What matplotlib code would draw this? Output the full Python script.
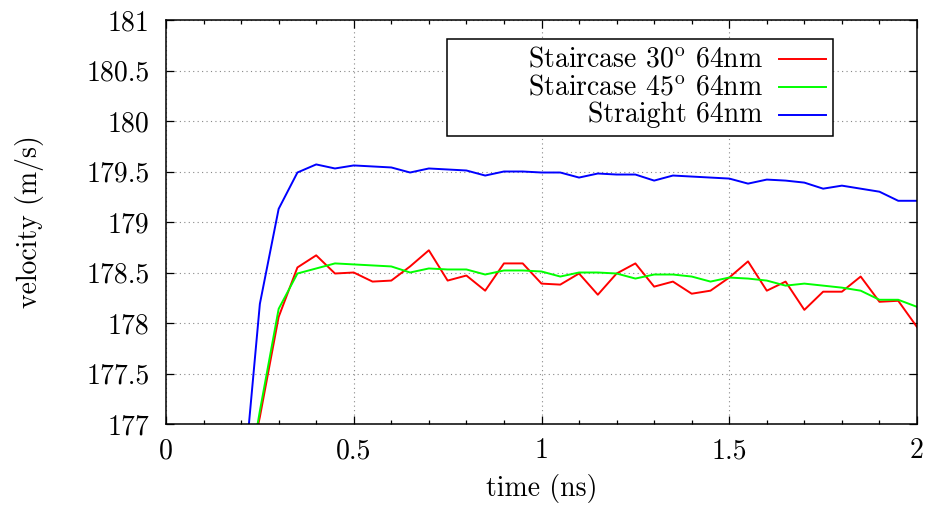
import matplotlib
matplotlib.use("Agg")
import matplotlib.pyplot as plt
from matplotlib.ticker import MultipleLocator, FuncFormatter
from matplotlib.patches import Rectangle
from matplotlib.lines import Line2D

time_ns = [0.20, 0.25, 0.30, 0.35, 0.40, 0.45, 0.50, 0.55, 0.60, 0.65,
           0.70, 0.75, 0.80, 0.85, 0.90, 0.95, 1.00, 1.05, 1.10, 1.15,
           1.20, 1.25, 1.30, 1.35, 1.40, 1.45, 1.50, 1.55, 1.60, 1.65,
           1.70, 1.75, 1.80, 1.85, 1.90, 1.95, 2.00]

stair30 = [176.20, 177.07, 178.06, 178.55, 178.67, 178.49, 178.50, 178.41, 178.42, 178.56,
           178.72, 178.42, 178.47, 178.32, 178.59, 178.59, 178.39, 178.38, 178.49, 178.28,
           178.49, 178.59, 178.36, 178.41, 178.29, 178.32, 178.45, 178.61, 178.32, 178.41,
           178.13, 178.31, 178.31, 178.46, 178.21, 178.22, 177.96]

stair45 = [176.05, 177.13, 178.14, 178.49, 178.54, 178.59, 178.58, 178.57, 178.56, 178.50,
           178.54, 178.53, 178.53, 178.48, 178.52, 178.52, 178.51, 178.46, 178.50, 178.50,
           178.49, 178.44, 178.48, 178.48, 178.46, 178.41, 178.45, 178.44, 178.42, 178.37,
           178.39, 178.37, 178.35, 178.32, 178.23, 178.23, 178.16]

straight = [176.15, 178.19, 179.13, 179.49, 179.57, 179.53, 179.56, 179.55, 179.54, 179.49,
            179.53, 179.52, 179.51, 179.46, 179.50, 179.50, 179.49, 179.49, 179.44, 179.48,
            179.47, 179.47, 179.41, 179.46, 179.45, 179.44, 179.43, 179.38, 179.42, 179.41,
            179.39, 179.33, 179.36, 179.33, 179.30, 179.21, 179.21]

labels = [r"Staircase 30$^{\rm o}$ 64nm", r"Staircase 45$^{\rm o}$ 64nm", "Straight 64nm"]
colors = ["#ff0000", "#00ff00", "#0000ff"]

plt.rcParams['font.family'] = ['cmr10', 'DejaVu Serif']
plt.rcParams['mathtext.fontset'] = 'cm'
plt.rcParams['mathtext.rm'] = 'cmr10'
FS = 20

fig = plt.figure(figsize=(9.3, 5.05), dpi=100)
AX_L, AX_R, AX_T, AX_B = 166, 917, 20, 424
ax = fig.add_axes([AX_L/930, 1 - AX_B/505, (AX_R - AX_L)/930, (AX_B - AX_T)/505])

lines = []
for y, c, lab in zip([stair30, stair45, straight], colors, labels):
    ln, = ax.plot(time_ns, y, color=c, lw=1.4, label=lab)
    lines.append(ln)

ax.set_xlim(0, 2)
ax.set_ylim(177, 181)
ax.xaxis.set_major_locator(MultipleLocator(0.5))
ax.xaxis.set_minor_locator(MultipleLocator(0.1))
ax.yaxis.set_major_locator(MultipleLocator(0.5))
fmt = FuncFormatter(lambda v, p: f"{v:g}")
ax.xaxis.set_major_formatter(fmt)
ax.yaxis.set_major_formatter(fmt)

ax.tick_params(which='both', direction='in', top=True, right=True, width=0.9, color='black')
ax.tick_params(which='major', length=5.5)
ax.tick_params(which='minor', length=2.8)
ax.tick_params(axis='y', which='major', pad=12, labelsize=FS)
ax.tick_params(axis='x', which='major', pad=10, labelsize=FS)

for s in ax.spines.values():
    s.set_linewidth(1.1)
    s.set_color('black')

ax.grid(True, which='major', linestyle=(0, (1, 3)), color='#888888', lw=0.8)
ax.set_axisbelow(True)

ax.set_xlabel("time (ns)", fontsize=FS, labelpad=7)
ax.set_ylabel("velocity (m/s)", fontsize=FS, labelpad=30)

# gnuplot-style key: fixed box, right-aligned labels, sample lines on the right
W, H = AX_R - AX_L, AX_B - AX_T
fx = lambda px: (px - AX_L) / W
fy = lambda py: (AX_B - py) / H
ax.add_patch(Rectangle((fx(446.7), fy(136)), fx(833) - fx(446.7), fy(39.3) - fy(136),
                       transform=ax.transAxes, facecolor='white', edgecolor='black',
                       lw=1.1, zorder=5))
row_y = [59.3, 87.3, 115.0]
for ln, ry in zip(lines, row_y):
    ax.text(fx(762.7), fy(ry + 7.4), ln.get_label(), transform=ax.transAxes,
            ha='right', va='baseline', fontsize=FS, zorder=6)
    ax.add_line(Line2D([fx(779), fx(826)], [fy(ry), fy(ry)], transform=ax.transAxes,
                       color=ln.get_color(), lw=1.4, zorder=6, clip_on=False))

fig.savefig("out.png", dpi=100)
